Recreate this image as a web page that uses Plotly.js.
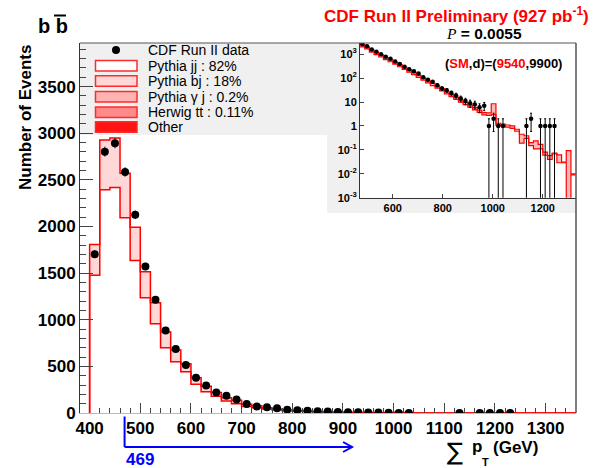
<!DOCTYPE html>
<html><head><meta charset="utf-8">
<script src="https://cdn.plot.ly/plotly-3.0.1.min.js"></script>
<style>html,body{margin:0;padding:0;background:#fff}</style>
</head><body><div id="chart" style="width:599px;height:468px"></div>
<script>
// ---------- main histogram (20 GeV bins) ----------
const mainEdges = [400,420,440,460,480,500,520,540,560,580,600,620,640,660,680,700,720,740,760,780,800,820,840,860,880,900,920,940,960,980,1000,1020,1040,1060,1080,1100,1120,1140,1160,1180,1200,1220,1240,1260,1280,1300,1320,1340,1360];
const mainData = [1703,2803,2893,2585,2125,1571,1214,886,686,514,379,296,221,186,146,96,71,61,50,35,30,25,20,15,11,9,8,6,5,2,1,1,null,null,null,null,1,null,1,1,1,1,null,null,null,null,null,null];
const mainTotal = [1807,2928,2950,2571,1993,1514,1182,868,675,529,379,286,221,164,136,93,79,57,43,32,27,21,16,12,9.5,7.5,5.8,4.6,3.6,3.4,7,1.3,1.2,1.1,0.95,0.73,0.45,0.39,0.24,0.17,0.08,0.058,0.074,0.062,0.031,0.093,0.01,0.01];
const mainJJ = [1478,2393,2418,2093,1636,1236,957,700,550,443,307,229,179,129,100,71,57,43,32,25,22,17,13,10,7.8,6,4.7,3.7,2.9,2.7,3,1.05,1.0,0.9,0.8,0.6,0.19,0.3,0.11,0.11,0.06,0.04,0.068,0.029,0.029,0,0.009,0.009];

// ---------- inset histogram (log scale, above the 469 GeV cut) ----------
const insetEdges = [469,487.75,506.5,525.25,544,562.75,581.5,600.25,619,637.75,656.5,675.25,694,712.75,731.5,750.25,769,787.75,806.5,825.25,844,862.75,881.5,900.25,919,937.75,956.5,975.25,994,1012.75,1031.5,1050.25,1069,1087.75,1106.5,1125.25,1144,1162.75,1181.5,1200.25,1219,1237.75,1256.5,1275.25,1294,1312.75,1331.5];
const insetData = [2600,2150,1580,1260,1000,776,646,501,389,302,234,195,158,110,85,71,51,37,31,24,19,14,11,9,8,6,7,1,2,1,1,null,null,null,null,1,2,null,1,1,1,1,null,null,null,null];
const insetTotal = [2500,2050,1500,1180,930,730,590,470,365,285,220,170,130,100,78,60,46,36,27,21,16,12,9.5,7.5,5.8,4.6,3.6,3.5,8.5,1.3,1.2,1.1,1.0,0.73,0.45,0.39,0.2,0.24,0.17,0.08,0.058,0.074,0.062,0.031,0.093,0.01];
const insetJJ = [2050,1680,1230,965,765,600,485,385,300,234,180,140,107,82,64,49,38,29,22,17,13,9.8,7.8,6.1,4.7,3.7,2.9,2.8,3.0,1.05,1.0,0.9,0.8,0.6,0.19,0.3,0.15,0.11,0.11,0.06,0.04,0.068,0.029,0.029,0,0.009];
const insetYTicks = [0.001,0.01,0.1,1,10,100,1000];
const insetYText = ['10<sup>-3</sup>','10<sup>-2</sup>','10<sup>-1</sup>','1','10','10<sup>2</sup>','10<sup>3</sup>'];
const insetXTicks = [600,800,1000,1200];

const cutValue = 469;
const arrowEnd = 918;

const legendLabels = ['CDF Run II data','Pythia jj : 82%','Pythia bj : 18%','Pythia \u03b3 j : 0.2%','Herwig tt : 0.11%','Other'];
const legendFills = [null,'#ffffff','#ffd7d7','#ffb4b4','#ff8a8a','#ff1414'];

// ---------- helpers ----------
const FONT = 'Liberation Sans, Arial, Helvetica, sans-serif';
const L = 80, T = 43, W = 496, H = 370;
const xRange = [381, 1360], yRange = [0, 3968];
const px = x => (x - L) / W;
const py = y => (T + H - y) / H;
const xData = v => (v - xRange[0]) / (xRange[1] - xRange[0]);
const centers = e => e.slice(0, -1).map((v, i) => (v + e[i + 1]) / 2);

function stepLin(edges, vals) {
  const xs = [edges[0]], ys = [0];
  vals.forEach((v, i) => { xs.push(edges[i]); ys.push(v); });
  xs.push(edges[edges.length - 1]); ys.push(vals[vals.length - 1]);
  return {xs, ys};
}
function stepLog(edges, vals) {
  const c = v => (v > 0 ? v : 1e-7);
  const xs = [], ys = [];
  vals.forEach((v, i) => { xs.push(edges[i]); ys.push(c(v)); });
  xs.push(edges[edges.length - 1]); ys.push(c(vals[vals.length - 1]));
  return {xs, ys};
}

const RED = '#ff0000', PINK = '#ffd7d7';
const mJ = stepLin(mainEdges, mainJJ), mT = stepLin(mainEdges, mainTotal);
const iJ = stepLog(insetEdges, insetJJ), iT = stepLog(insetEdges, insetTotal);

const traces = [
  {x: mJ.xs, y: mJ.ys, xaxis: 'x', yaxis: 'y', mode: 'lines', line: {color: RED, width: 1.5, shape: 'hv'}, hoverinfo: 'skip'},
  {x: mT.xs, y: mT.ys, xaxis: 'x', yaxis: 'y', mode: 'lines', line: {color: RED, width: 1.5, shape: 'hv'}, fill: 'tonexty', fillcolor: PINK, hoverinfo: 'skip'},
  {x: centers(mainEdges), y: mainData, xaxis: 'x', yaxis: 'y', mode: 'markers', marker: {color: '#000', size: 8},
   error_y: {type: 'data', array: mainData.map(v => v == null ? 0 : Math.sqrt(v)), color: '#000', thickness: 1, width: 0}, hoverinfo: 'skip'},
  {x: iJ.xs, y: iJ.ys, xaxis: 'x2', yaxis: 'y2', mode: 'lines', line: {color: RED, width: 1.2, shape: 'hv'}, hoverinfo: 'skip'},
  {x: iT.xs, y: iT.ys, xaxis: 'x2', yaxis: 'y2', mode: 'lines', line: {color: RED, width: 1.2, shape: 'hv'}, fill: 'tonexty', fillcolor: '#ffb8b8', hoverinfo: 'skip'},
  {x: centers(insetEdges), y: insetData, xaxis: 'x2', yaxis: 'y2', mode: 'markers', marker: {color: '#000', size: 4.5},
   error_y: {type: 'data', symmetric: false,
     array: insetData.map(v => v == null ? 0 : Math.sqrt(v)),
     arrayminus: insetData.map(v => v == null ? 0 : (v > 1 ? Math.sqrt(v) : v - 1e-6)),
     color: '#000', thickness: 1, width: 1}, hoverinfo: 'skip'}
];

const tickFont = s => ({family: FONT, size: s, weight: 'bold', color: '#000'});

const shapes = [
  {type: 'rect', xref: 'paper', yref: 'paper', x0: 0, x1: px(327), y0: py(135), y1: 1, fillcolor: '#f0f0f0', line: {width: 0}, layer: 'below'},
  {type: 'rect', xref: 'paper', yref: 'paper', x0: px(327), x1: 1, y0: py(213), y1: 1, fillcolor: '#f0f0f0', line: {width: 0}, layer: 'below'},
  {type: 'rect', xref: 'paper', yref: 'paper', x0: px(360), x1: 1, y0: py(197.7), y1: 1, fillcolor: '#ffffff', line: {width: 0}, layer: 'below'},
  {type: 'line', xref: 'paper', yref: 'paper', x0: 0, x1: 1, y0: 1, y1: 1, line: {color: '#555', width: 1.2}},
  {type: 'line', xref: 'paper', yref: 'paper', x0: 1, x1: 1, y0: 0, y1: 1, line: {color: '#555', width: 1.5}},
  {type: 'line', xref: 'paper', yref: 'paper', x0: px(54), x1: px(66), y0: py(15.5), y1: py(15.5), line: {color: '#000', width: 2}},
  {type: 'line', xref: 'paper', yref: 'paper', x0: xData(cutValue), x1: xData(cutValue), y0: py(416.5), y1: py(447), line: {color: '#0000ff', width: 2}},
  {type: 'line', xref: 'paper', yref: 'paper', x0: xData(cutValue), x1: xData(arrowEnd), y0: py(447), y1: py(447), line: {color: '#0000ff', width: 2}},
  {type: 'path', xref: 'paper', yref: 'paper',
   path: `M ${xData(arrowEnd) - 9 / W} ${py(442)} L ${xData(arrowEnd)} ${py(447)} L ${xData(arrowEnd) - 9 / W} ${py(452)}`,
   line: {color: '#0000ff', width: 2}}
];

const rowY = [50, 65.7, 81, 96.7, 112.3, 127];
legendFills.forEach((f, i) => {
  if (f === null) {
    shapes.push({type: 'circle', xref: 'paper', yref: 'paper', x0: px(112), x1: px(120), y0: py(rowY[i] + 4), y1: py(rowY[i] - 4), fillcolor: '#000', line: {width: 0}});
  } else {
    shapes.push({type: 'rect', xref: 'paper', yref: 'paper', x0: px(95.5), x1: px(137), y0: py(rowY[i] + 5.2), y1: py(rowY[i] - 5.2), fillcolor: f, line: {color: '#ff2a2a', width: 1.5}});
  }
});

const ann = (text, x, y, o) => Object.assign({text, xref: 'paper', yref: 'paper', x: px(x), y: py(y), showarrow: false, xanchor: 'center', yanchor: 'middle'}, o || {});
const annotations = [
  ann('b b', 36, 26, {xanchor: 'left', font: {family: FONT, size: 20, weight: 'bold', color: '#000'}}),
  ann('CDF Run II Preliminary (927 pb<sup>-1</sup>)', 591, 15.5, {xanchor: 'right', font: {family: FONT, size: 17, weight: 'bold', color: '#ff0000'}}),
  ann('<span style="font-family:Liberation Serif;font-style:italic;font-weight:normal">P</span> = 0.0055', 484, 33.5, {font: {family: FONT, size: 15.5, weight: 'bold', color: '#000'}}),
  ann('(<span style="color:#ff0000">SM</span>,d)=(<span style="color:#ff0000">9540</span>,9900)', 503.5, 63, {font: {family: FONT, size: 13, weight: 'bold', color: '#000'}}),
  ann('Number of Events', 25, 118, {textangle: -90, font: {family: FONT, size: 17, weight: 'bold', color: '#000'}}),
  ann('\u2211', 455, 452, {font: {family: 'DejaVu Sans, Liberation Sans, sans-serif', size: 24, color: '#000'}}),
  ann('p', 470, 446, {xanchor: 'left', font: {family: FONT, size: 17, weight: 'bold', color: '#000'}}),
  ann('T', 480, 462, {xanchor: 'left', font: {family: FONT, size: 11, weight: 'bold', color: '#000'}}),
  ann('(GeV)', 491, 447, {xanchor: 'left', font: {family: FONT, size: 17, weight: 'bold', color: '#000'}}),
  ann(String(cutValue), 124, 459, {xanchor: 'left', font: {family: FONT, size: 17, weight: 'bold', color: '#0000ff'}})
];
legendLabels.forEach((t, i) => annotations.push(ann(t, 146, rowY[i], {xanchor: 'left', font: {family: FONT, size: 14, color: '#000'}})));

const layout = {
  width: 599, height: 468,
  margin: {l: L, r: 599 - L - W, t: T, b: 468 - T - H, pad: 0},
  paper_bgcolor: '#ffffff', plot_bgcolor: 'rgba(0,0,0,0)',
  showlegend: false,
  xaxis: {domain: [0, 1], anchor: 'y', range: xRange, showline: true, linecolor: '#f2a0a0', linewidth: 1,
    ticks: 'inside', ticklen: 10, tickwidth: 1, tickcolor: '#444', tick0: 400, dtick: 100,
    minor: {dtick: 20, tick0: 400, ticklen: 5, ticks: 'inside', tickcolor: '#444', tickwidth: 1},
    tickfont: tickFont(17), showgrid: false, zeroline: false},
  yaxis: {domain: [0, 1], anchor: 'x', range: yRange, showline: true, linecolor: '#333', linewidth: 1,
    ticks: 'inside', ticklen: 13, tickwidth: 1, tickcolor: '#444', tick0: 0, dtick: 500,
    minor: {dtick: 100, ticklen: 6, ticks: 'inside', tickcolor: '#444', tickwidth: 1},
    tickfont: tickFont(17), showgrid: false, zeroline: false},
  xaxis2: {domain: [px(360), 1], anchor: 'y2', range: [469, 1333], showline: true, linecolor: '#333', linewidth: 1,
    ticks: 'inside', ticklen: 4, tickcolor: '#444', tickvals: insetXTicks, tickfont: tickFont(11), showgrid: false, zeroline: false},
  yaxis2: {domain: [py(197.7), 1], anchor: 'x2', type: 'log', range: [-3, 3.47], showline: true, linecolor: '#333', linewidth: 1,
    ticks: 'inside', ticklen: 4, tickcolor: '#444', tickvals: insetYTicks, ticktext: insetYText, tickfont: tickFont(11), showgrid: false, zeroline: false},
  shapes, annotations
};

Plotly.newPlot('chart', traces, layout, {staticPlot: true, displayModeBar: false});
</script></body></html>
